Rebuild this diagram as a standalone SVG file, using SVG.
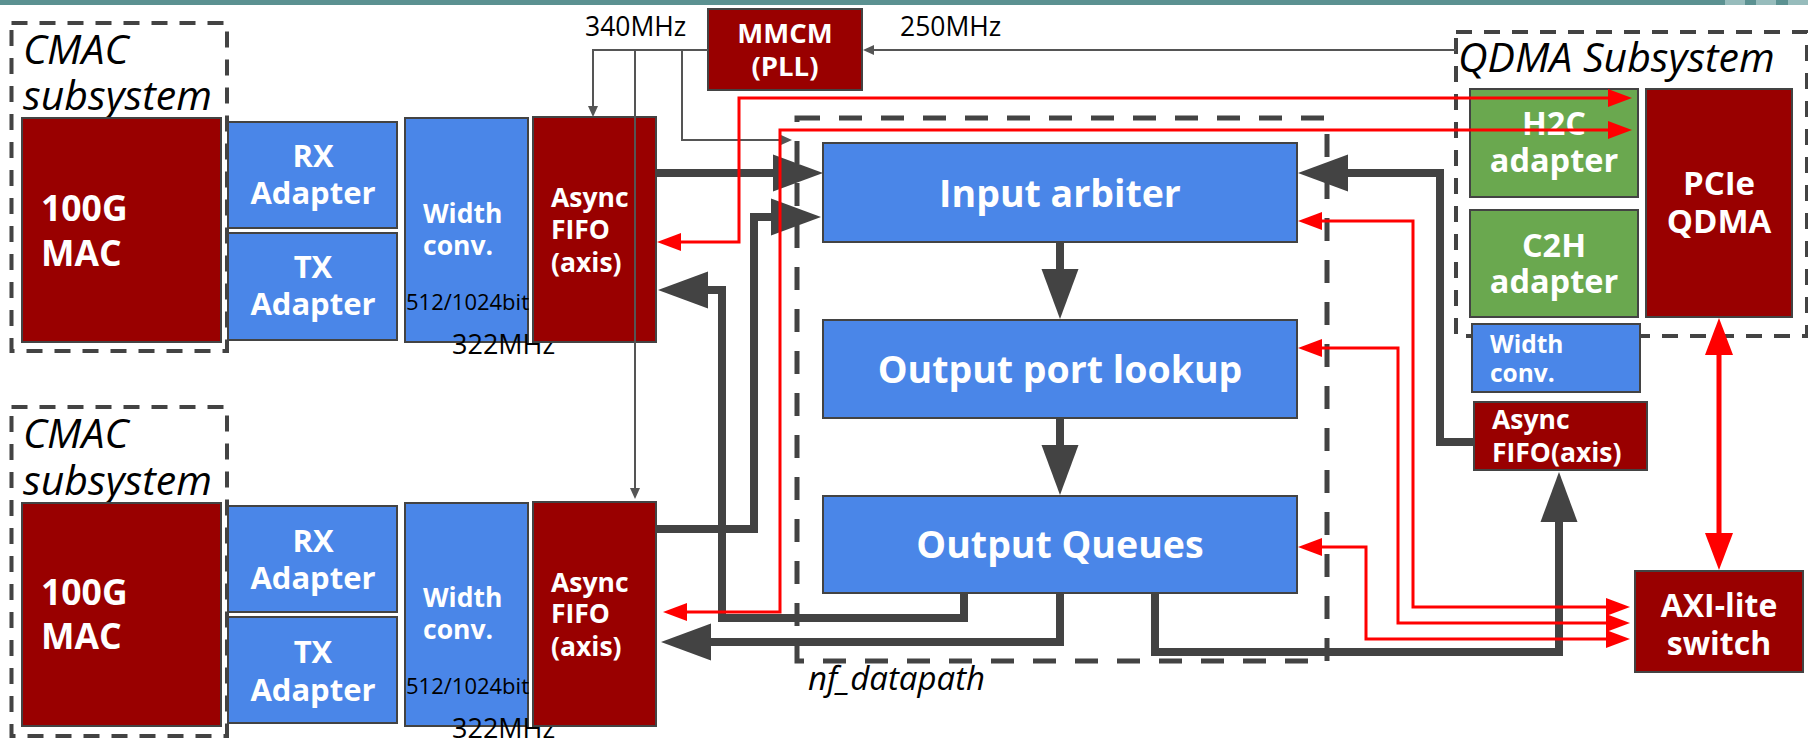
<svg xmlns="http://www.w3.org/2000/svg" width="1808" height="743" viewBox="0 0 1808 743">
<style>
text{font-family:"Open Sans","Liberation Sans",sans-serif}
.b{fill:#4a86e8;stroke:#434343;stroke-width:2}
.r{fill:#990000;stroke:#434343;stroke-width:2}
.g{fill:#6aa84f;stroke:#434343;stroke-width:2}
.dsh{fill:none;stroke:#434343;stroke-width:4;stroke-dasharray:16 12}
.dshb{fill:none;stroke:#434343;stroke-width:5;stroke-dasharray:23 19}
.w{fill:#fff;font-weight:700}
.c{text-anchor:middle}
.it{fill:#000;font-style:italic}
.k{fill:#000}
.gl{fill:none;stroke:#434343;stroke-width:8}
.tl{fill:none;stroke:#555;stroke-width:2}
.rl{fill:none;stroke:#ff0000;stroke-width:3}
.rl2{fill:none;stroke:#ff0000;stroke-width:5}
</style>
<defs>
<marker id="ag" markerUnits="userSpaceOnUse" viewBox="0 -19 50 38" refX="0" refY="0" markerWidth="50" markerHeight="38" orient="auto" overflow="visible"><path d="M0,-18.5 L50,0 L0,18.5 z" fill="#434343"/></marker>
<marker id="at" markerUnits="userSpaceOnUse" viewBox="0 -6 11 12" refX="0" refY="0" markerWidth="11" markerHeight="12" orient="auto" overflow="visible"><path d="M0,-5 L11,0 L0,5 z" fill="#555"/></marker>
<marker id="ar" markerUnits="userSpaceOnUse" viewBox="0 -10 24 20" refX="0" refY="0" markerWidth="24" markerHeight="20" orient="auto-start-reverse" overflow="visible"><path d="M0,-9 L24,0 L0,9 z" fill="#ff0000"/></marker>
<marker id="ar2" markerUnits="userSpaceOnUse" viewBox="0 -15 37 30" refX="0" refY="0" markerWidth="37" markerHeight="30" orient="auto-start-reverse" overflow="visible"><path d="M0,-14 L37,0 L0,14 z" fill="#ff0000"/></marker>
</defs>
<rect width="1808" height="743" fill="#fff"/>
<g id="topbar">
<rect x="0" y="0" width="1808" height="5" fill="#5b9191"/>
<rect x="1725" y="0" width="20" height="5" fill="#97bcbc"/>
<rect x="1756" y="0" width="20" height="5" fill="#97bcbc"/>
<rect x="1788" y="0" width="20" height="5" fill="#97bcbc"/>
</g>

<g id="cmac1">
<rect class="dsh" x="11.5" y="23" width="215.5" height="328"/>
<text class="it" x="23" y="64" font-size="41">CMAC</text>
<text class="it" x="23" y="110" font-size="41">subsystem</text>
</g>
<g id="mac1"><rect class="r" x="22" y="118" width="199" height="224"/>
<text class="w" x="41" y="221" font-size="35.5">100G</text><text class="w" x="41" y="266" font-size="35.5">MAC</text></g>
<g id="rx1"><rect class="b" x="228" y="122" width="169" height="106"/>
<text class="w c" x="313" y="167" font-size="31">RX</text><text class="w c" x="313" y="204" font-size="31">Adapter</text></g>
<g id="tx1"><rect class="b" x="228" y="233" width="169" height="107"/>
<text class="w c" x="313" y="278" font-size="31">TX</text><text class="w c" x="313" y="315" font-size="31">Adapter</text></g>
<g id="wc1"><rect class="b" x="405" y="118" width="123" height="224"/>
<text class="w" x="423" y="223" font-size="26.5">Width</text><text class="w" x="423" y="255" font-size="26.5">conv.</text>
<text class="k" x="406" y="310" font-size="22">512/1024bit</text>
<text class="k" x="452" y="354" font-size="27">322MHz</text></g>
<g id="fifo1"><rect class="r" x="533" y="117" width="123" height="225"/>
<text class="w" x="551" y="207" font-size="26.5">Async</text><text class="w" x="551" y="239" font-size="26.5">FIFO</text><text class="w" x="551" y="272" font-size="26.5">(axis)</text></g>

<g id="cmac2">
<rect class="dsh" x="11.5" y="407" width="215.5" height="329"/>
<text class="it" x="23" y="448" font-size="41">CMAC</text>
<text class="it" x="23" y="495" font-size="41">subsystem</text>
</g>
<g id="mac2"><rect class="r" x="22" y="503" width="199" height="223"/>
<text class="w" x="41" y="605" font-size="35.5">100G</text><text class="w" x="41" y="649" font-size="35.5">MAC</text></g>
<g id="rx2"><rect class="b" x="228" y="506" width="169" height="106"/>
<text class="w c" x="313" y="552" font-size="31">RX</text><text class="w c" x="313" y="589" font-size="31">Adapter</text></g>
<g id="tx2"><rect class="b" x="228" y="617" width="169" height="106"/>
<text class="w c" x="313" y="663" font-size="31">TX</text><text class="w c" x="313" y="701" font-size="31">Adapter</text></g>
<g id="wc2"><rect class="b" x="405" y="503" width="123" height="223"/>
<text class="w" x="423" y="607" font-size="26.5">Width</text><text class="w" x="423" y="639" font-size="26.5">conv.</text>
<text class="k" x="406" y="694" font-size="22">512/1024bit</text>
<text class="k" x="452" y="738" font-size="27">322MHz</text></g>
<g id="fifo2"><rect class="r" x="533" y="502" width="123" height="224"/>
<text class="w" x="551" y="592" font-size="26.5">Async</text><text class="w" x="551" y="623" font-size="26.5">FIFO</text><text class="w" x="551" y="656" font-size="26.5">(axis)</text></g>

<g id="mmcm"><rect class="r" x="708" y="9" width="154" height="81"/>
<text class="w c" x="785" y="43" font-size="27.5">MMCM</text><text class="w c" x="785" y="76" font-size="27.5">(PLL)</text></g>
<g id="clk-labels">
<text class="k" x="585" y="36" font-size="26.5">340MHz</text>
<text class="k" x="900" y="36" font-size="26.5">250MHz</text>
</g>

<g id="nf_datapath">
<rect class="dshb" x="797" y="118" width="530" height="543"/>
<text class="it" x="808" y="690" font-size="33">nf_datapath</text>
</g>
<g id="input_arbiter"><rect class="b" x="823" y="143" width="474" height="99"/>
<text class="w c" x="1060" y="207" font-size="37.5">Input arbiter</text></g>
<g id="output_port_lookup"><rect class="b" x="823" y="320" width="474" height="98"/>
<text class="w c" x="1060" y="383" font-size="37.5">Output port lookup</text></g>
<g id="output_queues"><rect class="b" x="823" y="496" width="474" height="97"/>
<text class="w c" x="1060" y="558" font-size="37.5">Output Queues</text></g>

<g id="qdma">
<rect class="dsh" x="1456" y="32" width="351" height="304"/>
<text class="it" x="1458" y="72" font-size="41">QDMA Subsystem</text>
</g>
<g id="h2c"><rect class="g" x="1470" y="89" width="168" height="108"/>
<text class="w c" x="1554" y="135" font-size="32.5">H2C</text><text class="w c" x="1554" y="172" font-size="32.5">adapter</text></g>
<g id="c2h"><rect class="g" x="1470" y="210" width="168" height="107"/>
<text class="w c" x="1554" y="257" font-size="32.5">C2H</text><text class="w c" x="1554" y="293" font-size="32.5">adapter</text></g>
<g id="pcie"><rect class="r" x="1646" y="89" width="146" height="228"/>
<text class="w c" x="1719" y="195" font-size="33">PCIe</text><text class="w c" x="1719" y="233" font-size="33">QDMA</text></g>
<g id="wc3"><rect class="b" x="1472" y="324" width="168" height="68"/>
<text class="w" x="1490" y="353" font-size="24.5">Width</text><text class="w" x="1490" y="382" font-size="24.5">conv.</text></g>
<g id="fifo3"><rect class="r" x="1474" y="402" width="173" height="68"/>
<text class="w" x="1492" y="429" font-size="26.5">Async</text><text class="w" x="1492" y="462" font-size="26.5">FIFO(axis)</text></g>
<g id="axilite"><rect class="r" x="1635" y="571" width="168" height="101"/>
<text class="w c" x="1719" y="617" font-size="32">AXI-lite</text><text class="w c" x="1719" y="655" font-size="32">switch</text></g>

<g id="connectors">
<path class="gl" d="M657,173 H773" marker-end="url(#ag)"/>
<path class="gl" d="M657,529 H754 V217 H771" marker-end="url(#ag)"/>
<path class="gl" d="M964,593 V618 H722 V290 H708" marker-end="url(#ag)"/>
<path class="gl" d="M1060,593 V642 H711" marker-end="url(#ag)"/>
<path class="gl" d="M1155,593 V652 H1559 V522" marker-end="url(#ag)"/>
<path class="gl" d="M1474,442 H1440 V173 H1348" marker-end="url(#ag)"/>
<path class="gl" d="M1060,242 V269" marker-end="url(#ag)"/>
<path class="gl" d="M1060,418 V445" marker-end="url(#ag)"/>
<path class="tl" d="M708,50 H593 V106" marker-end="url(#at)"/>
<path class="tl" d="M635,50 V488" marker-end="url(#at)"/>
<path class="tl" d="M682,50 V140 H781" marker-end="url(#at)"/>
<path class="tl" d="M1456,50 H874" marker-end="url(#at)"/>
<path class="rl" d="M681,242 H739 V98 H1608" marker-start="url(#ar)" marker-end="url(#ar)"/>
<path class="rl" d="M687,612 H780 V130 H1608" marker-start="url(#ar)" marker-end="url(#ar)"/>
<path class="rl" d="M1322,221 H1413 V607 H1606" marker-start="url(#ar)" marker-end="url(#ar)"/>
<path class="rl" d="M1322,348 H1398 V623 H1606" marker-start="url(#ar)" marker-end="url(#ar)"/>
<path class="rl" d="M1322,547 H1366 V639 H1606" marker-start="url(#ar)" marker-end="url(#ar)"/>
<path class="rl2" d="M1719,355 V533" marker-start="url(#ar2)" marker-end="url(#ar2)"/>
</g>
</svg>
